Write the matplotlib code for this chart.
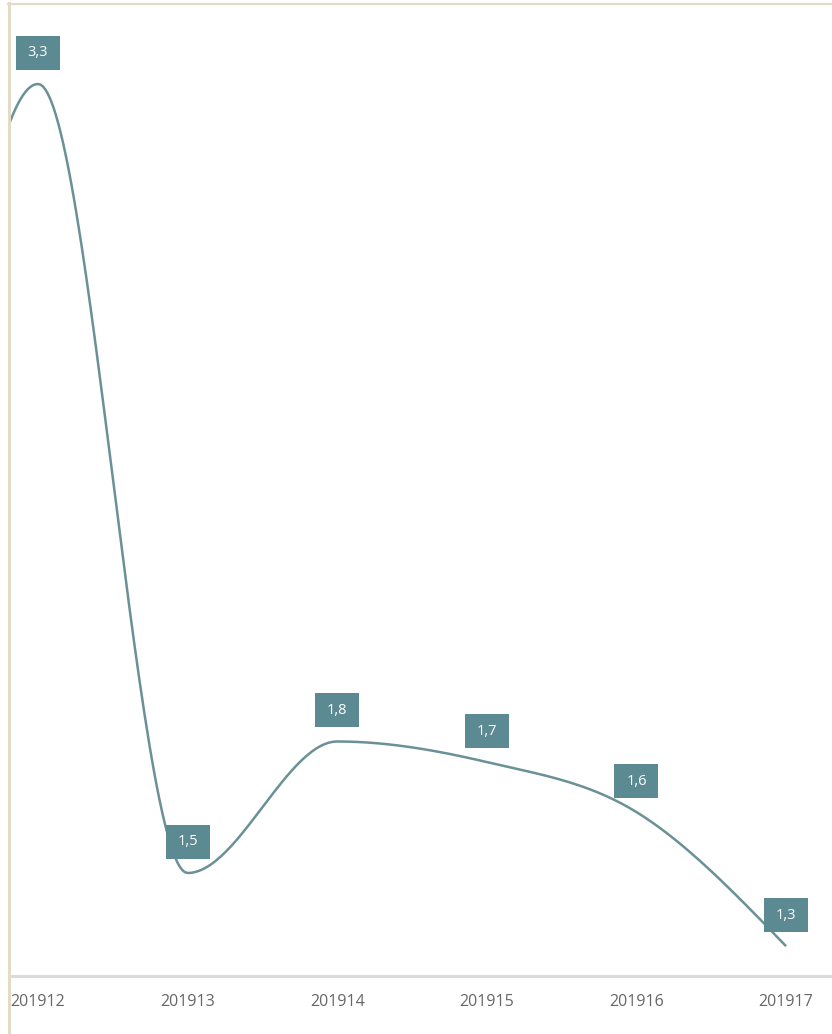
import numpy as np
import matplotlib
matplotlib.use("Agg")
import matplotlib.pyplot as plt
from matplotlib.patches import Rectangle
from matplotlib.transforms import ScaledTranslation
from matplotlib.lines import Line2D

# week 201911 sits left of the visible range, only its curve end shows
weeks = ["201911", "201912", "201913", "201914", "201915", "201916", "201917"]
values = [1.55, 3.3, 1.5, 1.8, 1.753, 1.639, 1.333]
shown_labels = ["", "3,3", "1,5", "1,8", "1,7", "1,6", "1,3"]

LINE = "#6a9197"
BOX = "#5b8a92"
FRAME = "#e2dbc8"


def monotone_x(x, y, n=60):
    # d3 curveMonotoneX style tangents (Steffen)
    x = np.asarray(x, float)
    y = np.asarray(y, float)
    h = np.diff(x)
    s = np.diff(y) / h
    m = np.zeros_like(y)
    for i in range(1, len(x) - 1):
        p = (s[i - 1] * h[i] + s[i] * h[i - 1]) / (h[i - 1] + h[i])
        m[i] = (np.sign(s[i - 1]) + np.sign(s[i])) * min(
            abs(s[i - 1]), abs(s[i]), 0.5 * abs(p)
        )
    m[0] = (3 * s[0] - m[1]) / 2
    m[-1] = (3 * s[-1] - m[-2]) / 2
    xs, ys = [], []
    for i in range(len(x) - 1):
        t = np.linspace(0, 1, n)
        h00 = 2 * t**3 - 3 * t**2 + 1
        h10 = t**3 - 2 * t**2 + t
        h01 = -2 * t**3 + 3 * t**2
        h11 = t**3 - t**2
        xs.append(x[i] + t * h[i])
        ys.append(
            h00 * y[i] + h10 * h[i] * m[i] + h01 * y[i + 1] + h11 * h[i] * m[i + 1]
        )
    return np.concatenate(xs), np.concatenate(ys)


fig = plt.figure(figsize=(8.32, 10.34), dpi=100)
W, H = 832, 1034
ax = fig.add_axes([9 / W, 1 - 976 / H, 1 - 9 / W, (976 - 4) / H])

pos = np.arange(len(weeks)) - 1
cx, cy = monotone_x(pos, values)
ax.plot(cx, cy, color=LINE, lw=1.8, solid_capstyle="butt")

for p, v, lab in zip(pos, values, shown_labels):
    if not lab:
        continue
    tr = fig.dpi_scale_trans + ScaledTranslation(p, v, ax.transData)
    ax.add_patch(
        Rectangle((-0.22, 0.14), 0.44, 0.34, transform=tr, facecolor=BOX,
                  edgecolor="none", zorder=3, clip_on=False)
    )
    ax.text(0, 0.31, lab, transform=tr, ha="center", va="center",
            color="white", fontsize=10.5, family="Open Sans", zorder=4)

ax.set_xticks(pos[1:])
ax.set_xticklabels(weeks[1:], family="Open Sans", fontsize=11.5, color="#666666")
ax.tick_params(axis="x", length=0, pad=13)
ax.set_yticks([])
ax.set_xlim(-0.194, 5.307)
ax.set_ylim(1.265, 3.4825)
for side in ["top", "right", "left"]:
    ax.spines[side].set_visible(False)
ax.spines["bottom"].set_color("#dadada")
ax.spines["bottom"].set_linewidth(2.2)

# beige frame on the left and top
fig.add_artist(Line2D([9 / W, 9 / W], [0, 1 - 3 / H], color=FRAME, lw=2.2))
fig.add_artist(Line2D([8 / W, 1], [1 - 4 / H, 1 - 4 / H], color=FRAME, lw=1.6))

fig.savefig("out.png", dpi=100)
